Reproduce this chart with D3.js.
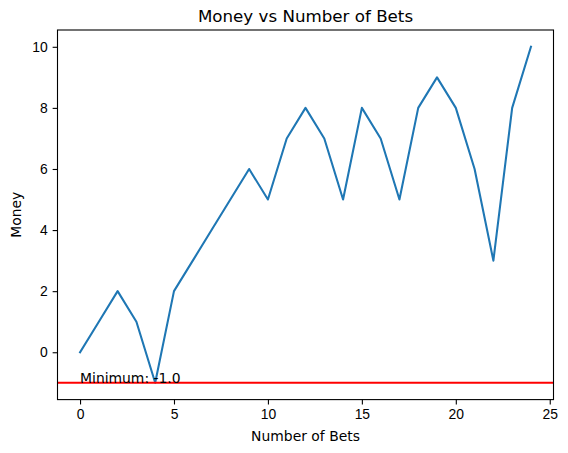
<!DOCTYPE html>
<html>
<head>
<meta charset="utf-8">
<script src="https://cdn.jsdelivr.net/npm/d3@7"></script>
<style>
  body { margin: 0; background: #fff; }
  svg { display: block; font-family: "DejaVu Sans", sans-serif; }
</style>
</head>
<body>
<div id="chart"></div>
<script>
// data
const bets = [0, 1, 2, 3, 4, 5, 6, 7, 8, 9, 10, 11, 12, 13, 14, 15, 16, 17, 18, 19, 20, 21, 22, 23, 24];
const money = [0, 1, 2, 1, -1, 2, 3, 4, 5, 6, 5, 7, 8, 7, 5, 8, 7, 5, 8, 9, 8, 6, 3, 8, 10];
const xTicks = [0, 5, 10, 15, 20, 25];
const yTicks = [0, 2, 4, 6, 8, 10];
const minimum = -1;

const width = 568, height = 453;
const margin = {top: 30, left: 57.5, right: 14.5, bottom: 53.4};

const svg = d3.select("#chart").append("svg")
    .attr("width", width)
    .attr("height", height);

// scales (matplotlib style 5% padding)
const xScale = d3.scaleLinear()
    .domain([-1.2, 25.2])
    .range([margin.left, width - margin.right]);

const yScale = d3.scaleLinear()
    .domain([-1.55, 10.55])
    .range([height - margin.bottom, margin.top]);

// axes
const tickLen = 4.86;
const xAxis = d3.axisBottom(xScale).tickValues(xTicks).tickSize(tickLen).tickPadding(4.86).tickFormat(d3.format("d"));
const yAxis = d3.axisLeft(yScale).tickValues(yTicks).tickSize(tickLen).tickPadding(4.86).tickFormat(d3.format("d"));

const gx = svg.append("g")
    .attr("transform", "translate(0," + (height - margin.bottom) + ")")
    .call(xAxis);
gx.select(".domain").remove();
gx.selectAll(".tick line").attr("stroke", "#000").attr("stroke-width", 1.1);
gx.selectAll("text").style("font-size", "13.9px").attr("fill", "#000");

const gy = svg.append("g")
    .attr("transform", "translate(" + margin.left + ",0)")
    .call(yAxis);
gy.select(".domain").remove();
gy.selectAll(".tick line").attr("stroke", "#000").attr("stroke-width", 1.1);
gy.selectAll("text").style("font-size", "13.9px").attr("fill", "#000");

// clip for plot area
svg.append("clipPath").attr("id", "plotClip")
    .append("rect")
    .attr("x", margin.left)
    .attr("y", margin.top)
    .attr("width", width - margin.left - margin.right)
    .attr("height", height - margin.top - margin.bottom);

const plot = svg.append("g").attr("clip-path", "url(#plotClip)");

// money line
const line = d3.line()
    .x((d, i) => xScale(bets[i]))
    .y(d => yScale(d));

plot.append("path")
    .datum(money)
    .attr("fill", "none")
    .attr("stroke", "#1f77b4")
    .attr("stroke-width", 2.08)
    .attr("stroke-linejoin", "round")
    .attr("stroke-linecap", "square")
    .attr("d", line);

// minimum line
plot.append("line")
    .attr("x1", margin.left)
    .attr("x2", width - margin.right)
    .attr("y1", yScale(minimum))
    .attr("y2", yScale(minimum))
    .attr("stroke", "red")
    .attr("stroke-width", 2.08);

svg.append("text")
    .attr("x", xScale(0))
    .attr("y", yScale(minimum))
    .style("font-size", "13.9px")
    .attr("fill", "#000")
    .text("Minimum: " + minimum.toFixed(1));

// frame
svg.append("rect")
    .attr("x", margin.left)
    .attr("y", margin.top)
    .attr("width", width - margin.left - margin.right)
    .attr("height", height - margin.top - margin.bottom)
    .attr("fill", "none")
    .attr("stroke", "#000")
    .attr("stroke-width", 1.1);

// title, labels
svg.append("text")
    .attr("x", (margin.left + width - margin.right) / 2)
    .attr("y", margin.top - 8)
    .attr("text-anchor", "middle")
    .style("font-size", "16.7px")
    .text("Money vs Number of Bets");

svg.append("text")
    .attr("x", (margin.left + width - margin.right) / 2)
    .attr("y", height - 12)
    .attr("text-anchor", "middle")
    .style("font-size", "13.9px")
    .text("Number of Bets");

svg.append("text")
    .attr("transform", "translate(21," + ((margin.top + height - margin.bottom) / 2) + ") rotate(-90)")
    .attr("text-anchor", "middle")
    .style("font-size", "13.9px")
    .text("Money");
</script>
</body>
</html>
